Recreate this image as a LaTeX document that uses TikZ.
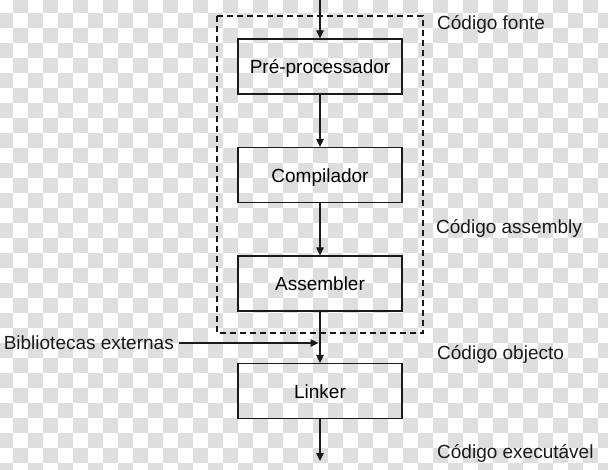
\documentclass[tikz,border=0pt]{standalone}
\usepackage{fontspec}
\setmainfont{Liberation Sans}
\usepackage{xcolor}
\usepackage{tikz}
\usetikzlibrary{positioning,calc,arrows.meta}

\definecolor{xadrez}{HTML}{DEDEDE}
\definecolor{tinta}{HTML}{1A1A1A}

\tikzset{
  bloco/.style={draw=tinta, line width=1.2pt, minimum width=164pt, minimum height=55pt, inner sep=0pt, text height=15pt, text depth=0pt},
  rotulo/.style={anchor=west, inner sep=0pt, text=tinta},
  seta/.style={draw=tinta, line width=1.2pt, -{Triangle[length=8pt,width=7.5pt]}},
  tracejado/.style={draw=tinta, line width=1.1pt, dash pattern=on 6pt off 4pt}
}

\begin{document}
\begin{tikzpicture}[x=1pt,y=-1pt,font=\fontsize{19}{23}\selectfont]
        \useasboundingbox (0,0) rectangle (608,470);

        % Fundo
        \fill[white] (0,0) rectangle (608,470);
        \foreach \i in {0,...,40} {
            \foreach \j in {0,...,31} {
                \pgfmathparse{mod(\i+\j,2)==1 ? "xadrez" : "white"}
                \fill[\pgfmathresult] (\i*15-2,\j*15-2) rectangle ++(15,15);
            }
        }

        % Etapas
        \node[bloco] (pre) at (320,66.5) {Pré-processador};
        \node[bloco] (comp) at (320,175) {Compilador};
        \node[bloco] (asm) at (320,283.5) {Assembler};
        \node[bloco] (lnk) at (320,391) {Linker};

        % Moldura tracejada
        \draw[tracejado] (217,16) rectangle (423,333);

        % Setas
        \coordinate (entrada) at (320,0);
        \coordinate (juncao) at (320,343);
        \coordinate (saida) at (320,461);
        \draw[seta] (entrada) -- (pre);
        \draw[seta] (pre) -- (comp);
        \draw[seta] (comp) -- (asm);
        \draw[seta] (asm) -- (lnk);
        \draw[seta] (lnk) -- (saida);

        % Bibliotecas
        \node[anchor=east, inner sep=0pt, text=tinta] (lib) at (174,343) {Bibliotecas externas};
        \draw[seta, shorten >=1.5pt] ([xshift=5pt]lib.east) -- (juncao);

        % Rotulos
        \node[rotulo] (fonte) at (437,24) {Código fonte};
        \node[rotulo] (assembly) at (436,228) {Código assembly};
        \node[rotulo] (objecto) at (437,354) {Código objecto};
        \node[rotulo] (exec) at (437,453) {Código executável};
    \end{tikzpicture}
\end{document}
